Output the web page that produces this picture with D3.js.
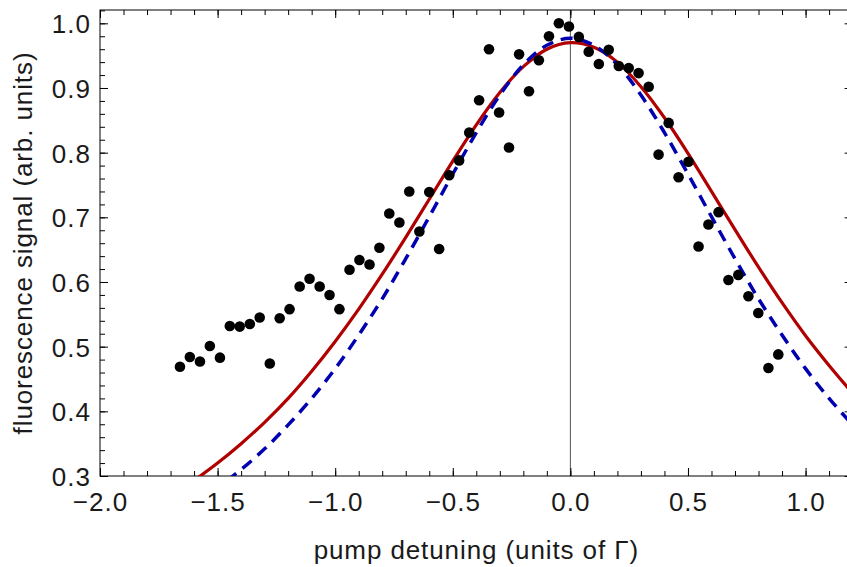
<!DOCTYPE html>
<html>
<head>
<meta charset="utf-8">
<script src="https://cdn.jsdelivr.net/npm/d3@7"></script>
<style>
  html, body { margin: 0; padding: 0; background: #fff; }
  svg { display: block; overflow: hidden; }
  .tk text { font-family: "Liberation Sans", Arial, sans-serif; font-size: 26px; letter-spacing: 1px; fill: #1a1a1a; }
  .tk line { stroke: #000; stroke-width: 1; }
  .lbl { font-family: "Liberation Sans", Arial, sans-serif; font-size: 26px; letter-spacing: 0.9px; fill: #1a1a1a; }
</style>
</head>
<body>
<div id="chart"></div>
<script>
(function () {
  "use strict";

  // measured points: pump detuning (units of Gamma) vs fluorescence signal
  var detuning = [
    -1.660, -1.618, -1.575, -1.533, -1.490, -1.448, -1.406, -1.363, -1.321, -1.278,
    -1.236, -1.194, -1.151, -1.109, -1.066, -1.024, -0.982, -0.939, -0.897, -0.854,
    -0.812, -0.770, -0.727, -0.685, -0.642, -0.600, -0.558, -0.515, -0.473, -0.430,
    -0.388, -0.346, -0.303, -0.261, -0.218, -0.176, -0.134, -0.091, -0.049, -0.006,
     0.036,  0.078,  0.121,  0.163,  0.206,  0.248,  0.290,  0.333,  0.375,  0.418,
     0.460,  0.502,  0.545,  0.587,  0.630,  0.672,  0.714,  0.757,  0.799,  0.842,
     0.884
  ];
  var signal = [
    0.469, 0.484, 0.477, 0.501, 0.483, 0.532, 0.531, 0.535, 0.545, 0.474,
    0.544, 0.558, 0.593, 0.605, 0.593, 0.580, 0.558, 0.619, 0.634, 0.627,
    0.653, 0.706, 0.692, 0.740, 0.678, 0.739, 0.651, 0.765, 0.788, 0.831,
    0.881, 0.960, 0.862, 0.808, 0.952, 0.895, 0.943, 0.980, 1.000, 0.995,
    0.979, 0.956, 0.937, 0.959, 0.934, 0.931, 0.923, 0.902, 0.797, 0.846,
    0.762, 0.786, 0.655, 0.689, 0.708, 0.603, 0.611, 0.578, 0.552, 0.467,
    0.488
  ];

  var fitX = [
    -1.6, -1.5, -1.4, -1.3, -1.2, -1.1, -1.0, -0.9, -0.8, -0.7, -0.6, -0.5, -0.4, -0.3, -0.2,
    -0.1, 0.0, 0.1, 0.2, 0.3, 0.4, 0.5, 0.6, 0.7, 0.8, 0.9, 1.0, 1.1, 1.2
  ];
  var fitRed = [
    0.293, 0.320, 0.350, 0.383, 0.420, 0.462, 0.508, 0.558, 0.612, 0.669, 0.728, 0.787, 0.843, 0.893, 0.933,
    0.960, 0.970, 0.963, 0.940, 0.902, 0.854, 0.799, 0.740, 0.681, 0.623, 0.568, 0.517, 0.471, 0.428
  ];
  var fitBlue = [
    0.257, 0.282, 0.310, 0.342, 0.379, 0.420, 0.466, 0.518, 0.574, 0.636, 0.701, 0.767, 0.831, 0.889, 0.936,
    0.966, 0.977, 0.966, 0.936, 0.889, 0.831, 0.767, 0.701, 0.636, 0.574, 0.518, 0.466, 0.420, 0.379
  ];

  var xTicks = [-2.0, -1.5, -1.0, -0.5, 0.0, 0.5, 1.0];
  var yTicks = [0.3, 0.4, 0.5, 0.6, 0.7, 0.8, 0.9, 1.0];
  var xTitle = "pump detuning (units of \u0393)";
  var yTitle = "fluorescence signal (arb. units)";

  var W = 847, H = 567;
  var L = 100, R = 852.6, T = 10, B = 476;

  var x = d3.scaleLinear().domain([-2, 1.2]).range([L, R]);
  var y = d3.scaleLinear().domain([0.3, 1.0206]).range([B, T]);
  var fmt = d3.format(".1f");

  var svg = d3.select("#chart").append("svg")
    .attr("width", W).attr("height", H)
    .attr("viewBox", "0 0 " + W + " " + H);

  svg.append("defs").append("clipPath").attr("id", "plotclip")
    .append("rect").attr("x", L).attr("y", T).attr("width", R - L).attr("height", B - T);

  // x = 0 axis line
  svg.append("line")
    .attr("x1", x(0)).attr("x2", x(0)).attr("y1", T).attr("y2", B)
    .attr("stroke", "#555").attr("stroke-width", 1);

  // frame ticks (inward, Mathematica style)
  var xMinor = x.ticks(32), yMinor = y.ticks(36);
  function addAxis(axis, tx, ty, labels) {
    var g = svg.append("g").attr("class", "tk")
      .attr("transform", "translate(" + tx + "," + ty + ")").call(axis);
    g.select(".domain").remove();
    if (!labels) g.selectAll("text").remove();
    return g;
  }
  addAxis(d3.axisBottom(x).tickValues(xMinor).tickSize(-5), 0, B, false);
  addAxis(d3.axisTop(x).tickValues(xMinor).tickSize(-5), 0, T, false);
  addAxis(d3.axisLeft(y).tickValues(yMinor).tickSize(-5), L, 0, false);
  addAxis(d3.axisRight(y).tickValues(yMinor).tickSize(-5), R, 0, false);

  addAxis(d3.axisBottom(x).tickValues(xTicks).tickSize(-8).tickPadding(17).tickFormat(fmt), 0, B, true);
  addAxis(d3.axisTop(x).tickValues(xTicks).tickSize(-8), 0, T, false);
  addAxis(d3.axisLeft(y).tickValues(yTicks).tickSize(-8).tickPadding(9).tickFormat(fmt), L, 0, true)
    .selectAll("text").attr("dy", "0.37em");
  addAxis(d3.axisRight(y).tickValues(yTicks).tickSize(-8), R, 0, false);

  // frame
  svg.append("rect")
    .attr("x", L).attr("y", T).attr("width", R - L).attr("height", B - T)
    .attr("fill", "none").attr("stroke", "#000").attr("stroke-width", 1);

  // fit curves
  var plot = svg.append("g").attr("clip-path", "url(#plotclip)");
  function curve(vals) {
    return d3.line()
      .x(function (d, i) { return x(fitX[i]); })
      .y(function (d) { return y(d); })
      .curve(d3.curveCatmullRom.alpha(0.5))(vals);
  }
  plot.append("path").attr("d", curve(fitRed))
    .attr("fill", "none").attr("stroke", "#b00000").attr("stroke-width", 3.2);
  plot.append("path").attr("d", curve(fitBlue))
    .attr("fill", "none").attr("stroke", "#0000b0").attr("stroke-width", 3.5)
    .attr("stroke-dasharray", "12,8");

  // data
  plot.selectAll("circle.pt").data(signal).enter().append("circle")
    .attr("class", "pt")
    .attr("cx", function (d, i) { return x(detuning[i]); })
    .attr("cy", function (d) { return y(d); })
    .attr("r", 5.3)
    .attr("fill", "#000");

  // titles
  svg.append("text").attr("class", "lbl")
    .attr("x", (L + R) / 2).attr("y", 559)
    .attr("text-anchor", "middle").text(xTitle);
  svg.append("text").attr("class", "lbl")
    .attr("transform", "translate(32," + ((T + B) / 2) + ") rotate(-90)")
    .attr("text-anchor", "middle").text(yTitle);
})();
</script>
</body>
</html>
